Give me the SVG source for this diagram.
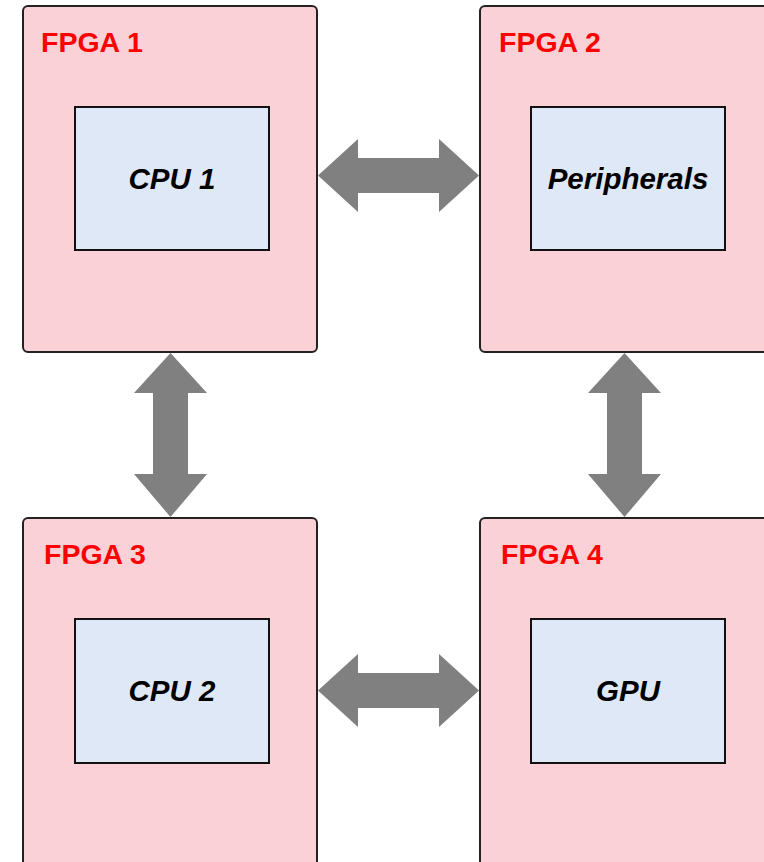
<svg xmlns="http://www.w3.org/2000/svg" width="764" height="862" viewBox="0 0 764 862">
<style>
.fpga{fill:#f9d1d7;stroke:#222;stroke-width:2}
.chip{fill:#dee8f6;stroke:#111;stroke-width:2}
.flabel{font-family:"Liberation Sans",Arial,sans-serif;font-weight:bold;font-size:28.5px;fill:#ff0000}
.clabel{font-family:"Liberation Sans",Arial,sans-serif;font-weight:bold;font-style:italic;font-size:29.5px;fill:#000;text-anchor:middle}
.arrow{fill:#808080}
</style>
<rect width="764" height="862" fill="#fff"/>
<g id="fpga1">
<rect class="fpga" x="23" y="6" width="294" height="346" rx="5"/>
<text class="flabel" x="41" y="52">FPGA 1</text>
<g id="cpu1"><rect class="chip" x="75" y="107" width="194" height="143"/>
<text class="clabel" x="172" y="189">CPU 1</text></g>
</g>
<g id="fpga2">
<rect class="fpga" x="480" y="6" width="300" height="346" rx="5"/>
<text class="flabel" x="499" y="52">FPGA 2</text>
<g id="peripherals"><rect class="chip" x="531" y="107" width="194" height="143"/>
<text class="clabel" x="628" y="189">Peripherals</text></g>
</g>
<g id="fpga3">
<rect class="fpga" x="23" y="518" width="294" height="360" rx="5"/>
<text class="flabel" x="44" y="564">FPGA 3</text>
<g id="cpu2"><rect class="chip" x="75" y="619" width="194" height="144"/>
<text class="clabel" x="172" y="701">CPU 2</text></g>
</g>
<g id="fpga4">
<rect class="fpga" x="480" y="518" width="300" height="360" rx="5"/>
<text class="flabel" x="501" y="564">FPGA 4</text>
<g id="gpu"><rect class="chip" x="531" y="619" width="194" height="144"/>
<text class="clabel" x="628" y="701">GPU</text></g>
</g>
<g id="connectors">
<polygon class="arrow" points="318,175.5 358,139 358,158 439,158 439,139 479,175.5 439,212 439,193 358,193 358,212"/>
<polygon class="arrow" points="318,690.5 358,654 358,673 439,673 439,654 479,690.5 439,727 439,708 358,708 358,727"/>
<polygon class="arrow" points="170.5,353 207,393 188,393 188,474 207,474 170.5,517 134,474 153,474 153,393 134,393"/>
<polygon class="arrow" points="624.5,353 661,393 642,393 642,474 661,474 624.5,517 588,474 607,474 607,393 588,393"/>
</g>
</svg>
